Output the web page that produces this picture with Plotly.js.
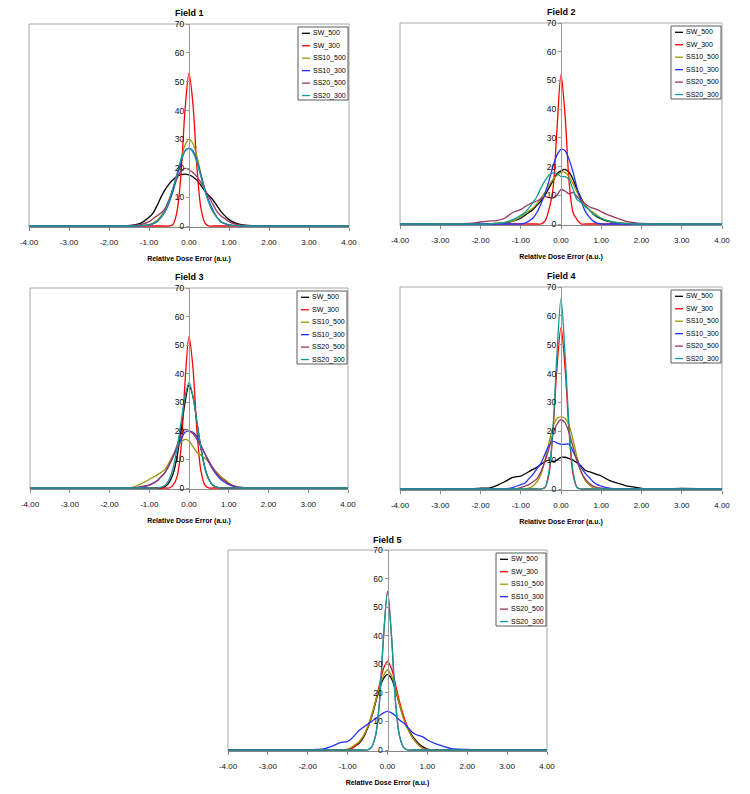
<!DOCTYPE html>
<html><head><meta charset="utf-8">
<script src="https://cdn.plot.ly/plotly-3.0.1.min.js"></script>
<style>html,body{margin:0;padding:0;background:#fff}#chart{width:750px;height:794px}</style>
</head><body><div id="chart"></div>
<script>
// ---------- data ----------
const X_ERR = [-4,-3,-2.2,-2.0,-1.8,-1.6,-1.4,-1.2,-1.0,-0.9,-0.8,-0.7,-0.6,-0.5,-0.4,-0.3,-0.2,-0.1,0,0.1,0.2,0.3,0.4,0.5,0.6,0.7,0.8,0.9,1.0,1.2,1.4,1.6,1.8,2.0,2.3,3,4];
const SERIES_NAMES = ['SW_500','SW_300','SS10_500','SS10_300','SS20_500','SS20_300'];
const FIELD_TITLES = ['Field 1','Field 2','Field 3','Field 4','Field 5'];
const X_TICK_VALUES = [-4,-3,-2,-1,0,1,2,3,4];
const X_TICK_LABELS = ['-4.00','-3.00','-2.00','-1.00','0.00','1.00','2.00','3.00','4.00'];
const Y_TICK_VALUES = [0,10,20,30,40,50,60,70];
const X_AXIS_TITLE = 'Relative Dose Error (a.u.)';

// Field 1
const F1_SW_500   = [0,0,0,0,0,0.1,0.3,1,3,4.5,7,10,12.5,14.5,16,17.2,17.8,18,17.7,17,15.8,14,12,10.5,9,7,5,3.5,2.2,0.8,0.3,0.1,0,0,0,0,0];
const F1_SW_300   = [0,0,0,0,0,0,0,0,0,0,0,0,0,0,0.5,5,18,40,53,42,20,6,1,0,0,0,0,0,0,0,0,0,0,0,0,0,0];
const F1_SS10_500 = [0,0,0,0,0,0,0,0.2,0.5,1,2,3.5,6,9,13,18,23,28,30,28.5,24,18,12.5,8,5,3,1.5,0.8,0.4,0.1,0,0,0,0,0,0,0];
const F1_SS10_300 = [0,0,0,0,0,0,0,0.1,0.3,0.8,1.5,3,5,8,12,17,22,26,27,26,22.5,17.5,12.5,8.5,5.5,3,1.5,0.8,0.4,0.1,0,0,0,0,0,0,0];
const F1_SS20_500 = [0,0,0,0,0,0,0.2,0.5,1.5,2.5,3.5,4.5,6,9,13,16.5,19,20,19.5,18.5,17,15,12.5,10,7.5,5,3.5,2.5,1.5,0.5,0.2,0,0,0,0,0,0];
const F1_SS20_300 = [0,0,0,0,0,0,0,0.1,0.3,0.8,1.5,3,5,8.5,13,18,23,26,27,25.5,22,17,12,8,5,3,1.5,0.8,0.3,0.1,0,0,0,0,0,0,0];
// Field 2
const F2_SW_500   = [0,0,0,0,0.1,0.2,0.4,1,2,3,4,5,6.5,8,10,12.5,15,17.5,18.5,19,18,15.5,12,9,6.5,5,3.5,2.5,1.8,0.8,0.3,0.1,0,0,0,0,0];
const F2_SW_300   = [0,0,0,0,0,0,0,0,0,0,0,0,0,0,1,5,12,33,52,38,15,4,1.5,0,0,0,0,0,0,0,0,0,0,0,0,0,0];
const F2_SS10_500 = [0,0,0,0,0,0.2,0.6,1,2.5,3.5,4.5,5.5,7,9,11,13.5,15.5,17,18,18,16.5,14,11,8.5,6.5,5,4,3,2,1,0.5,0.3,0.1,0,0,0,0];
const F2_SS10_300 = [0,0,0,0,0,0,0,0,0,0.3,1,2,4,7,10.5,15,20,24,26,25.5,22.5,18,12.5,8,4.5,2.5,1,0.3,0,0,0,0,0,0,0,0,0];
const F2_SS20_500 = [0,0,0.3,0.7,1,1.2,2,4,5,6,6.8,7.5,8,8.8,9.5,9.2,9,10,12,11.5,10.5,11,9.5,8,7,6,5.5,5,4.3,3,2,1,0.5,0.2,0,0,0];
const F2_SS20_300 = [0,0,0,0,0,0.2,0.5,1.5,3,4,5.5,7.5,9.5,12.5,15,17,17.8,17.5,16.5,16.5,15.5,12,8.5,7.5,6,5,3.5,2.7,2,1,0.5,0.2,0,0,0,0,0];
// Field 3
const F3_SW_500   = [0,0,0,0,0,0,0,0,0,0,0,0,0.5,2,5,11,20,30,36,32,23,14,7,3,1,0.3,0,0,0,0,0,0,0,0,0,0,0];
const F3_SW_300   = [0,0,0,0,0,0,0,0,0,0,0,0,0,0,1,4,14,37,53,42,20,6,1,0,0,0,0,0,0,0,0,0,0,0,0,0,0];
const F3_SS10_500 = [0,0,0,0,0,0,0.3,1.5,3,3.8,4.5,5.5,6.5,9,11.5,14,16,17,16.5,14.5,12.5,11.5,10.5,9,7,5.5,4,3,1.8,0.2,0,0,0,0,0,0,0];
const F3_SS10_300 = [0,0,0,0,0,0,0.1,0.3,1,1.7,2.5,4,5.5,8,11,14,17,19.5,20,19.5,18,15,12,9,6.5,4.5,3,2,1.2,0.3,0.1,0,0,0,0,0,0];
const F3_SS20_500 = [0,0,0,0,0,0,0,0.5,1,1.7,2.5,4,5.5,8,11,15,19,20.5,20,19,17,14.5,12,9.5,7,5,3.5,2.5,1.5,0.5,0.1,0,0,0,0,0,0];
const F3_SS20_300 = [0,0,0,0,0,0,0,0,0,0,0,0.3,1,3,7,14,23,32,37,32,23,14,7,3,1,0.3,0,0,0,0,0,0,0,0,0,0,0];
// Field 4
const F4_SW_500   = [0,0,0,0.3,0.3,1.2,2.5,4,4.5,5.2,6,6.8,7.5,8.5,9.5,10,9.5,10,11,11,10.5,10,9,8,6.5,6,5.5,5,4.5,3,2,1.2,0.7,0.2,0,0.2,0];
const F4_SW_300   = [0,0,0,0,0,0,0,0,0,0,0,0,0,0,0.5,5,20,42,56,42,20,5,0.5,0,0,0,0,0,0,0,0,0,0,0,0,0,0];
const F4_SS10_500 = [0,0,0,0,0,0,0,0,0,0,0.3,1,2.5,5,10,16,21.5,24.5,25,24.5,22,17,11,6,3,1.5,0.5,0,0,0,0,0,0,0,0,0,0];
const F4_SS10_300 = [0,0,0,0,0,0,0,0.5,1.5,2,3.5,5,7,9,12,15,16.5,16,15.5,15.5,15.5,13,10,7.5,5.5,4,2.5,1.5,1,0.3,0,0,0,0,0,0,0];
const F4_SS20_500 = [0,0,0,0,0,0,0,0,0.5,1,1.5,2.5,3.5,6,9.5,14,19,22.5,24,23,19.5,14.5,9.5,6,3.5,2,1,0.5,0.3,0,0,0,0,0,0,0,0];
const F4_SS20_300 = [0,0,0,0,0,0,0,0,0,0,0,0,0,0,0.5,6,21,47,66,47,22,6,0.5,0,0,0,0,0,0,0,0,0,0,0,0,0,0];
// Field 5
const F5_SW_500   = [0,0,0,0,0,0,0,0,0.2,0.7,1.5,2.5,4.5,7.5,11.5,16.5,21.5,25,26.5,25,21,16,11.5,8,5.5,3.5,2,1,0.3,0,0,0,0,0,0,0,0];
const F5_SW_300   = [0,0,0,0,0,0,0,0,0,0.5,1.5,3,5,8,12,17,23,28.5,31,28.5,23,17,12,8,5,3,1.5,0.5,0,0,0,0,0,0,0,0,0];
const F5_SS10_500 = [0,0,0,0,0,0,0,0,0.3,1,2,3,5,8,12,17,22,26,28,26,21.5,16,11,7.5,5,3,1.5,0.5,0.2,0,0,0,0,0,0,0,0];
const F5_SS10_300 = [0,0,0,0,0.2,0.4,1.3,2.5,3,4,5.5,7,8,9,10,11,12,13,13.5,13,12,10.5,9.5,8,6.5,5.5,5,4.5,3.5,2.2,1.3,0.5,0.3,0.2,0,0,0];
const F5_SS20_500 = [0,0,0,0,0,0,0,0,0,0,0,0,0,0,1,5,17,39,55.5,40,17,5,1,0,0,0,0,0,0,0,0,0,0,0,0,0,0];
const F5_SS20_300 = [0,0,0,0,0,0,0,0,0,0,0,0,0,0,1,5,17,40,55,40,17,5,1,0,0,0,0,0,0,0,0,0,0,0,0,0,0];

const FIELDS = [
  [F1_SW_500,F1_SW_300,F1_SS10_500,F1_SS10_300,F1_SS20_500,F1_SS20_300],
  [F2_SW_500,F2_SW_300,F2_SS10_500,F2_SS10_300,F2_SS20_500,F2_SS20_300],
  [F3_SW_500,F3_SW_300,F3_SS10_500,F3_SS10_300,F3_SS20_500,F3_SS20_300],
  [F4_SW_500,F4_SW_300,F4_SS10_500,F4_SS10_300,F4_SS20_500,F4_SS20_300],
  [F5_SW_500,F5_SW_300,F5_SS10_500,F5_SS10_300,F5_SS20_500,F5_SS20_300]
];

// ---------- styling / layout ----------
const SERIES_COLORS = ['#000000','#ff0000','#999900','#2233ff','#993366','#139a9a'];
const W = 750, H = 794;
const FONT = 'Liberation Sans, Arial, Helvetica, sans-serif';
const YMIN = -0.5, YMAX = 70;
// plot-area pixel geometry: L/R = x=-4 / x=4, T = y=70, Z = y=0, ty = title centre
const PANELS = [
  {L:29,  R:349, T:24,  Z:226, ty:13},
  {L:400, R:722, T:23,  Z:224, ty:12},
  {L:30,  R:348, T:288, Z:488, ty:277},
  {L:400, R:722, T:287, Z:489, ty:276},
  {L:228, R:547, T:550, Z:750, ty:540}
];

const px = v => v / W;
const py = v => 1 - v / H;

const traces = [];
const layout = {
  width: W, height: H,
  margin: {l:0, r:0, t:0, b:0},
  paper_bgcolor: '#ffffff', plot_bgcolor: 'rgba(0,0,0,0)',
  showlegend: false,
  font: {family: FONT, color: '#000'},
  shapes: [], annotations: []
};

PANELS.forEach((p, i) => {
  const n = i === 0 ? '' : String(i + 1);
  const xid = 'x' + n, yid = 'y' + n;
  const B = p.Z + (0 - YMIN) * (p.Z - p.T) / YMAX;

  FIELDS[i].forEach((ys, s) => {
    traces.push({
      type: 'scatter', mode: 'lines', name: SERIES_NAMES[s],
      x: X_ERR, y: ys, xaxis: xid, yaxis: yid,
      line: {color: SERIES_COLORS[s], width: 1.3, shape: 'spline', smoothing: 0.9},
      hoverinfo: 'x+y+name'
    });
  });

  layout['xaxis' + n] = {
    domain: [px(p.L), px(p.R)], range: [-4, 4], anchor: yid,
    tickmode: 'array', tickvals: X_TICK_VALUES, ticktext: X_TICK_LABELS,
    ticks: 'outside', ticklen: 3, tickcolor: '#888', ticklabelstandoff: 4,
    showline: true, linecolor: '#888', linewidth: 1,
    showgrid: false, zeroline: false, automargin: false,
    tickfont: {size: 8, family: FONT, color: '#111'},
    title: {text: '<b>' + X_AXIS_TITLE + '</b>', font: {size: 7, family: FONT, color: '#000'}, standoff: 10}
  };
  layout['yaxis' + n] = {
    domain: [py(B), py(p.T)], range: [YMIN, YMAX], anchor: 'free',
    position: px((p.L + p.R) / 2),
    tickmode: 'array', tickvals: Y_TICK_VALUES,
    ticks: 'outside', ticklen: 3, tickcolor: '#999',
    showline: true, linecolor: '#999', linewidth: 1,
    showgrid: false, zeroline: false, automargin: false,
    tickfont: {size: 8.5, family: FONT, color: '#111'}
  };

  // plot-area frame
  layout.shapes.push({type:'rect', xref:'paper', yref:'paper', layer:'below',
    x0: px(p.L), x1: px(p.R), y0: py(B), y1: py(p.T),
    line: {color:'#a8a8a8', width:1}, fillcolor:'rgba(0,0,0,0)'});

  // panel title
  layout.annotations.push({xref:'paper', yref:'paper', x: px((p.L + p.R) / 2), y: py(p.ty),
    xanchor:'center', yanchor:'middle', showarrow:false,
    text: '<b>' + FIELD_TITLES[i] + '</b>', font: {size: 9, family: FONT, color:'#000'}});

  // legend box
  const bl = p.R - 51, br = p.R - 1, bt = p.T + 3, bb = p.T + 76;
  layout.shapes.push({type:'rect', xref:'paper', yref:'paper', layer:'above',
    x0: px(bl), x1: px(br), y0: py(bb), y1: py(bt),
    line: {color:'#333', width:0.8}, fillcolor:'#ffffff'});
  SERIES_NAMES.forEach((nm, s) => {
    const cy = bt + 6.3 + 12.45 * s;
    layout.shapes.push({type:'line', xref:'paper', yref:'paper', layer:'above',
      x0: px(bl + 4), x1: px(bl + 12), y0: py(cy), y1: py(cy),
      line: {color: SERIES_COLORS[s], width: 1.3}});
    layout.annotations.push({xref:'paper', yref:'paper', x: px(bl + 13), y: py(cy),
      xanchor:'left', yanchor:'middle', showarrow:false, text: nm,
      font: {size: 7, family: FONT, color:'#000'}});
  });
});

Plotly.newPlot('chart', traces, layout, {staticPlot: true, displayModeBar: false});
</script>
</body></html>
